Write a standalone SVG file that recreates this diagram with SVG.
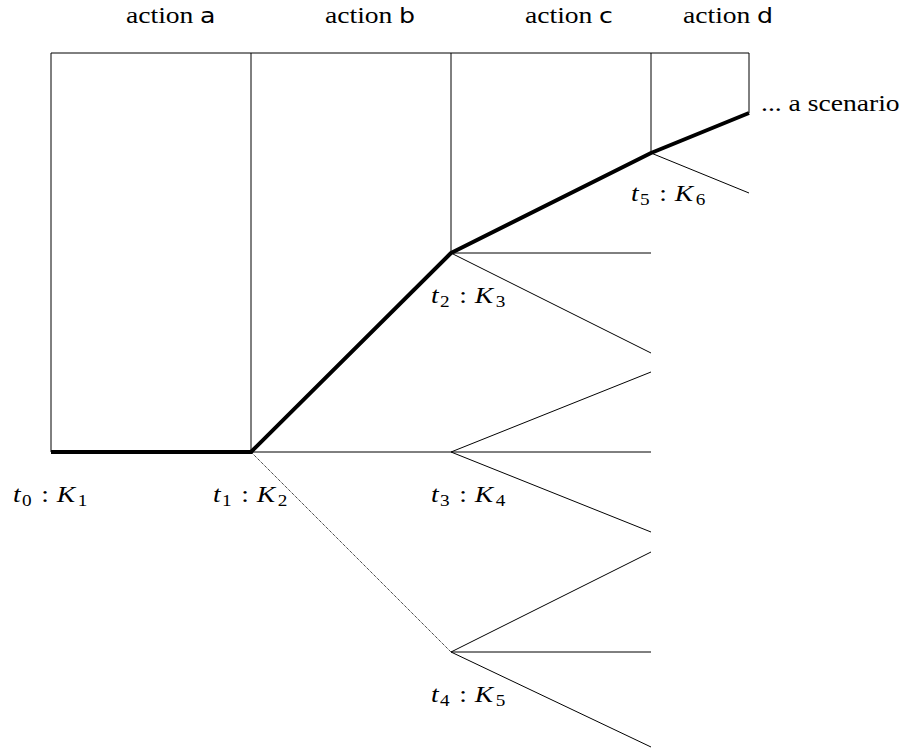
<svg xmlns="http://www.w3.org/2000/svg" width="912" height="753" viewBox="0 0 912 753">
<style>
.sf{font-family:'DejaVu Sans','Liberation Sans',sans-serif;font-size:21px}
.i{font-style:italic}
.sub{font-size:16px}
.thin{stroke:#000;stroke-width:1;fill:none}
.thick{stroke:#000;stroke-width:4;fill:none;stroke-linejoin:round}
.dot{stroke:#000;stroke-width:1;fill:none;stroke-dasharray:1 1}
</style>
<rect width="912" height="753" fill="#fff"/>
<g id="headers" font-family="Liberation Serif, serif" font-size="23" fill="#000">
<text transform="translate(126,23) scale(1.2,1)">action</text>
<text class="sf" transform="translate(200,23) scale(1.2,1)">a</text>
<text transform="translate(325,23) scale(1.2,1)">action</text>
<text class="sf" transform="translate(399,23) scale(1.2,1)">b</text>
<text transform="translate(525,23) scale(1.2,1)">action</text>
<text class="sf" transform="translate(599,23) scale(1.2,1)">c</text>
<text transform="translate(683,23) scale(1.2,1)">action</text>
<text class="sf" transform="translate(757,23) scale(1.2,1)">d</text>
</g>
<g id="connectors">
<line class="thin" x1="51" y1="53" x2="749" y2="53"/>
<line class="thin" x1="51" y1="53" x2="51" y2="452"/>
<line class="thin" x1="251" y1="53" x2="251" y2="452"/>
<line class="thin" x1="451" y1="53" x2="451" y2="253"/>
<line class="thin" x1="651" y1="53" x2="651" y2="153"/>
<line class="thin" x1="749" y1="53" x2="749" y2="113"/>
<line class="thin" x1="451" y1="253" x2="651" y2="253"/>
<line class="thin" x1="451" y1="253" x2="651" y2="353"/>
<line class="thin" x1="251" y1="452" x2="651" y2="452"/>
<line class="thin" x1="451" y1="452" x2="651" y2="372"/>
<line class="thin" x1="451" y1="452" x2="651" y2="532"/>
<line class="dot" x1="251" y1="452" x2="451" y2="652"/>
<line class="thin" x1="451" y1="652" x2="651" y2="552"/>
<line class="thin" x1="451" y1="652" x2="651" y2="652"/>
<line class="thin" x1="451" y1="652" x2="651" y2="747"/>
<line class="thin" x1="651" y1="153" x2="749" y2="193"/>
<polyline class="thick" points="51,452 251,452 451,253 651,153 749,113"/>
</g>
<g font-family="Liberation Serif, serif" font-size="23" fill="#000">
<g id="t0"><text transform="translate(13,502) scale(1.2,1)"><tspan class="i" x="0">t</tspan><tspan class="sub" x="7.5" dy="3.5">0</tspan><tspan x="23.5" dy="-3.5">:</tspan><tspan class="i" x="36.5">K</tspan><tspan class="sub" x="54" dy="3.5">1</tspan></text></g>
<g id="t1"><text transform="translate(213,502) scale(1.2,1)"><tspan class="i" x="0">t</tspan><tspan class="sub" x="7.5" dy="3.5">1</tspan><tspan x="23.5" dy="-3.5">:</tspan><tspan class="i" x="36.5">K</tspan><tspan class="sub" x="54" dy="3.5">2</tspan></text></g>
<g id="t2"><text transform="translate(431,303) scale(1.2,1)"><tspan class="i" x="0">t</tspan><tspan class="sub" x="7.5" dy="3.5">2</tspan><tspan x="23.5" dy="-3.5">:</tspan><tspan class="i" x="36.5">K</tspan><tspan class="sub" x="54" dy="3.5">3</tspan></text></g>
<g id="t3"><text transform="translate(431,502) scale(1.2,1)"><tspan class="i" x="0">t</tspan><tspan class="sub" x="7.5" dy="3.5">3</tspan><tspan x="23.5" dy="-3.5">:</tspan><tspan class="i" x="36.5">K</tspan><tspan class="sub" x="54" dy="3.5">4</tspan></text></g>
<g id="t4"><text transform="translate(431,702) scale(1.2,1)"><tspan class="i" x="0">t</tspan><tspan class="sub" x="7.5" dy="3.5">4</tspan><tspan x="23.5" dy="-3.5">:</tspan><tspan class="i" x="36.5">K</tspan><tspan class="sub" x="54" dy="3.5">5</tspan></text></g>
<g id="t5"><text transform="translate(631,201) scale(1.2,1)"><tspan class="i" x="0">t</tspan><tspan class="sub" x="7.5" dy="3.5">5</tspan><tspan x="23.5" dy="-3.5">:</tspan><tspan class="i" x="36.5">K</tspan><tspan class="sub" x="54" dy="3.5">6</tspan></text></g>
<g id="scenario"><text transform="translate(761,111) scale(1.2,1)">... a scenario</text></g>
</g>
</svg>
